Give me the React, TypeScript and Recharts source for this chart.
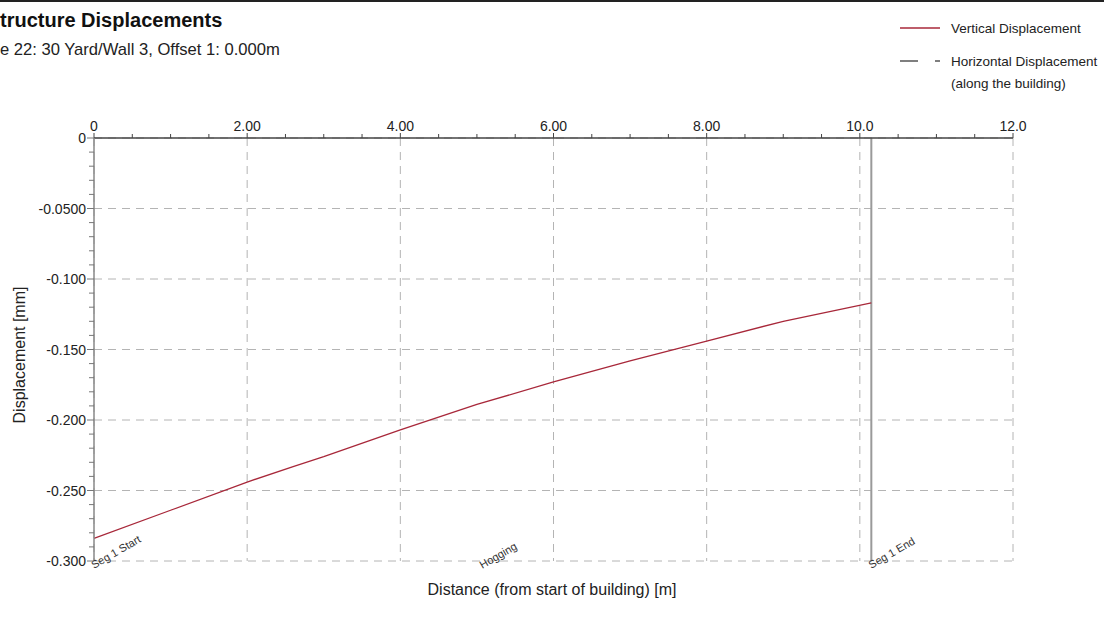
import { CartesianGrid, Line, LineChart, ReferenceDot, ReferenceLine, XAxis, YAxis } from "recharts";

// distance along building [m] and vertical displacement [mm]
const distance = [0, 1, 2, 2.6, 3, 4, 4.5, 5, 6, 7, 8, 9, 10.15];
const verticalDisp = [-0.284, -0.264, -0.244, -0.233, -0.226, -0.207, -0.198, -0.189, -0.173, -0.158, -0.144, -0.13, -0.117];

const xMajorTicks = [0, 2, 4, 6, 8, 10, 12];
const xTickLabels = ["0", "2.00", "4.00", "6.00", "8.00", "10.0", "12.0"];
const yMajorTicks = [0, -0.05, -0.1, -0.15, -0.2, -0.25, -0.3];
const yTickLabels = ["0", "-0.0500", "-0.100", "-0.150", "-0.200", "-0.250", "-0.300"];

const segmentEnd = 10.15;
const segmentNotes = [
  { x: 0, label: "Seg 1 Start" },
  { x: 5.07, label: "Hogging" },
  { x: 10.15, label: "Seg 1 End" }
];

const legendItems = [
  { lines: ["Vertical Displacement"], color: "#a8283a", dash: undefined },
  { lines: ["Horizontal Displacement", "(along the building)"], color: "#555", dash: "18 17 5 100" }
];

const data = distance.map((d, i) => ({ d, v: verticalDisp[i] }));

// minor ticks: 4 per major on x, 5 per major on y
const xTicks: number[] = [];
xMajorTicks.slice(0, -1).forEach((t, i) => {
  const step = (xMajorTicks[i + 1] - t) / 4;
  for (let k = 0; k < 4; k++) xTicks.push(Math.round((t + k * step) * 1000) / 1000);
});
xTicks.push(xMajorTicks[xMajorTicks.length - 1]);
const yTicks: number[] = [];
yMajorTicks.slice(0, -1).forEach((t, i) => {
  const step = (yMajorTicks[i + 1] - t) / 5;
  for (let k = 0; k < 5; k++) yTicks.push(Math.round((t + k * step) * 10000) / 10000);
});
yTicks.push(yMajorTicks[yMajorTicks.length - 1]);

const font = "'Liberation Sans', Arial, sans-serif";

function XTick({ x, y, payload }: any) {
  const idx = xMajorTicks.indexOf(payload.value);
  return (
    <g>
      <line x1={x} y1={y} x2={x} y2={y - (idx >= 0 ? 5 : 4)} stroke="#444" strokeWidth={1} />
      {idx >= 0 && (
        <text x={x} y={y - 7} textAnchor="middle" fontSize={14} fill="#222" fontFamily={font}>
          {xTickLabels[idx]}
        </text>
      )}
    </g>
  );
}

function YTick({ x, y, payload }: any) {
  const idx = yMajorTicks.findIndex((t) => Math.abs(t - payload.value) < 1e-6);
  return (
    <g>
      <line x1={x} y1={y} x2={x - (idx >= 0 ? 7 : 5)} y2={y} stroke="#777" strokeWidth={1} />
      {idx >= 0 && (
        <text x={x - 8} y={y + 5} textAnchor="end" fontSize={14} fill="#222" fontFamily={font}>
          {yTickLabels[idx]}
        </text>
      )}
    </g>
  );
}

function NoteLabel({ cx, cy, label }: any) {
  const ty = cy + 8;
  return (
    <text x={cx} y={ty} fontSize={11} fill="#333" fontFamily={font} transform={`rotate(-30 ${cx} ${ty})`}>
      {label}
    </text>
  );
}

export default function App() {
  return (
    <div style={{ position: "absolute", left: 0, top: 0, width: 1104, height: 618, background: "#fff", overflow: "hidden" }}>
      <LineChart width={1104} height={618} data={data} margin={{ top: 108, right: 91, bottom: 57, left: 34 }}>
        <CartesianGrid
          stroke="#b4b4b4"
          strokeDasharray="8 6"
          verticalValues={xMajorTicks}
          horizontalValues={yMajorTicks}
        />
        <XAxis
          dataKey="d"
          type="number"
          orientation="top"
          domain={[0, 12]}
          ticks={xTicks}
          interval={0}
          height={30}
          tickSize={0}
          tickMargin={0}
          tickLine={false}
          tick={<XTick />}
          stroke="#444"
          strokeWidth={1.5}
        />
        <YAxis
          type="number"
          domain={[-0.3, 0]}
          ticks={yTicks}
          interval={0}
          width={60}
          tickSize={0}
          tickMargin={0}
          tickLine={false}
          tick={<YTick />}
          stroke="#888"
          strokeWidth={1.5}
        />
        <ReferenceLine x={segmentEnd} stroke="#9a9a9a" strokeWidth={2} />
        <Line
          type="linear"
          dataKey="v"
          stroke="#a8283a"
          strokeWidth={1.3}
          dot={false}
          isAnimationActive={false}
        />
        {segmentNotes.map((n) => (
          <ReferenceDot
            key={n.label}
            x={n.x}
            y={-0.3}
            r={0}
            ifOverflow="visible"
            shape={(p: any) => <NoteLabel {...p} label={n.label} />}
          />
        ))}
      </LineChart>
      <svg width={1104} height={618} style={{ position: "absolute", left: 0, top: 0, pointerEvents: "none" }}>
        <line x1={0} y1={1} x2={1104} y2={1} stroke="#222" strokeWidth={2} />
        <text x={0} y={27} fontSize={20} fontWeight="bold" fill="#111" fontFamily={font}>
          tructure Displacements
        </text>
        <text x={0} y={55} fontSize={16.6} fill="#222" fontFamily={font}>
          e 22: 30 Yard/Wall 3, Offset 1: 0.000m
        </text>
        {legendItems.map((item, i) => (
          <g key={i}>
            <line
              x1={900}
              x2={940}
              y1={28 + i * 33}
              y2={28 + i * 33}
              stroke={item.color}
              strokeWidth={1.3}
              strokeDasharray={item.dash}
            />
            {item.lines.map((ln, j) => (
              <text key={j} x={951} y={33 + i * 33 + j * 22} fontSize={13.5} fill="#222" fontFamily={font}>
                {ln}
              </text>
            ))}
          </g>
        ))}
        <text
          x={25}
          y={355}
          fontSize={16}
          fill="#222"
          fontFamily={font}
          textAnchor="middle"
          transform="rotate(-90 25 355)"
        >
          Displacement [mm]
        </text>
        <text x={552} y={595} fontSize={16} fill="#222" fontFamily={font} textAnchor="middle">
          Distance (from start of building) [m]
        </text>
      </svg>
    </div>
  );
}
